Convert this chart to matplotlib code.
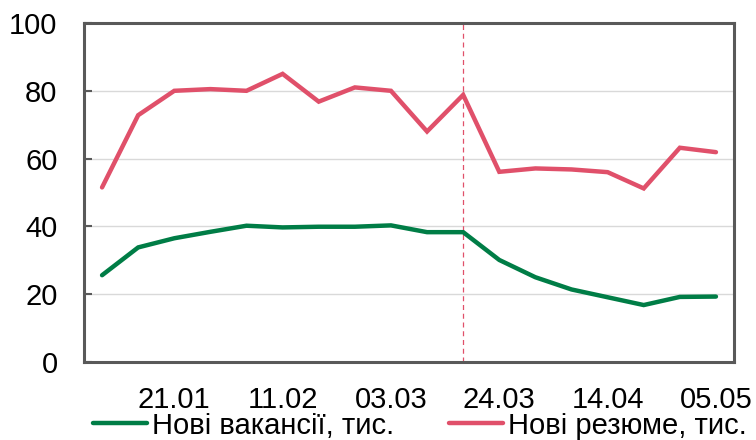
import matplotlib
matplotlib.use("Agg")
import matplotlib.pyplot as plt

dates = ["07.01", "14.01", "21.01", "28.01", "04.02", "11.02", "18.02", "25.02",
         "03.03", "10.03", "17.03", "24.03", "31.03", "07.04", "14.04", "21.04",
         "28.04", "05.05"]
vacancies = [25.6, 33.8, 36.5, 38.4, 40.2, 39.7, 39.9, 39.9, 40.3, 38.3, 38.3,
             30.1, 25.0, 21.4, 19.1, 16.8, 19.2, 19.3]
resumes = [51.5, 72.8, 80.0, 80.5, 80.0, 85.0, 76.8, 81.0, 80.0, 68.0, 78.8,
           56.1, 57.1, 56.8, 56.0, 51.2, 63.2, 61.9]
series_labels = ["Нові вакансії, тис.", "Нові резюме, тис."]
shown_ticks = ["21.01", "11.02", "03.03", "24.03", "14.04", "05.05"]
marker_date = "17.03"
yticks = [0, 20, 40, 60, 80, 100]

plt.rcParams['font.family'] = ['Liberation Sans', 'DejaVu Sans']

fig = plt.figure(figsize=(7.56, 4.40), dpi=100)
ax = fig.add_axes([84/756, 1-362/440, (734-84)/756, (362-23)/440])

x = list(range(len(dates)))
green = "#007d46"
red = "#e0506a"
ax.plot(x, vacancies, color=green, lw=3.2, solid_capstyle='round', solid_joinstyle='miter', label=series_labels[0], zorder=3)
ax.plot(x, resumes, color=red, lw=3.2, solid_capstyle='round', solid_joinstyle='miter', label=series_labels[1], zorder=3)

ax.axvline(dates.index(marker_date), color=red, lw=0.9, ls=(0, (4, 3)), zorder=2)

ax.set_xlim(-0.5, len(dates) - 0.5)
ax.set_ylim(0, 100)
ax.set_yticks(yticks)
ax.set_yticklabels([str(v) for v in yticks])
ax.set_xticks([dates.index(d) for d in shown_ticks])
ax.set_xticklabels(shown_ticks)

ax.yaxis.grid(True, color="#d9d9d9", lw=1.0)
ax.set_axisbelow(True)
for s in ax.spines.values():
    s.set_color("#595959")
    s.set_linewidth(2.2)

FS = 21
ax.tick_params(axis='y', direction='in', length=6, width=1.5, color="#595959",
               labelsize=FS, pad=19)
ax.tick_params(axis='x', length=0, labelsize=FS, pad=17)

fig.legend(loc='center left', bbox_to_anchor=(93/756, 1-425.5/440), ncol=2, frameon=False,
           fontsize=FS, handlelength=1.85, handletextpad=0.17, columnspacing=1.9,
           borderpad=0, borderaxespad=0)

fig.savefig("out.png", dpi=100)
